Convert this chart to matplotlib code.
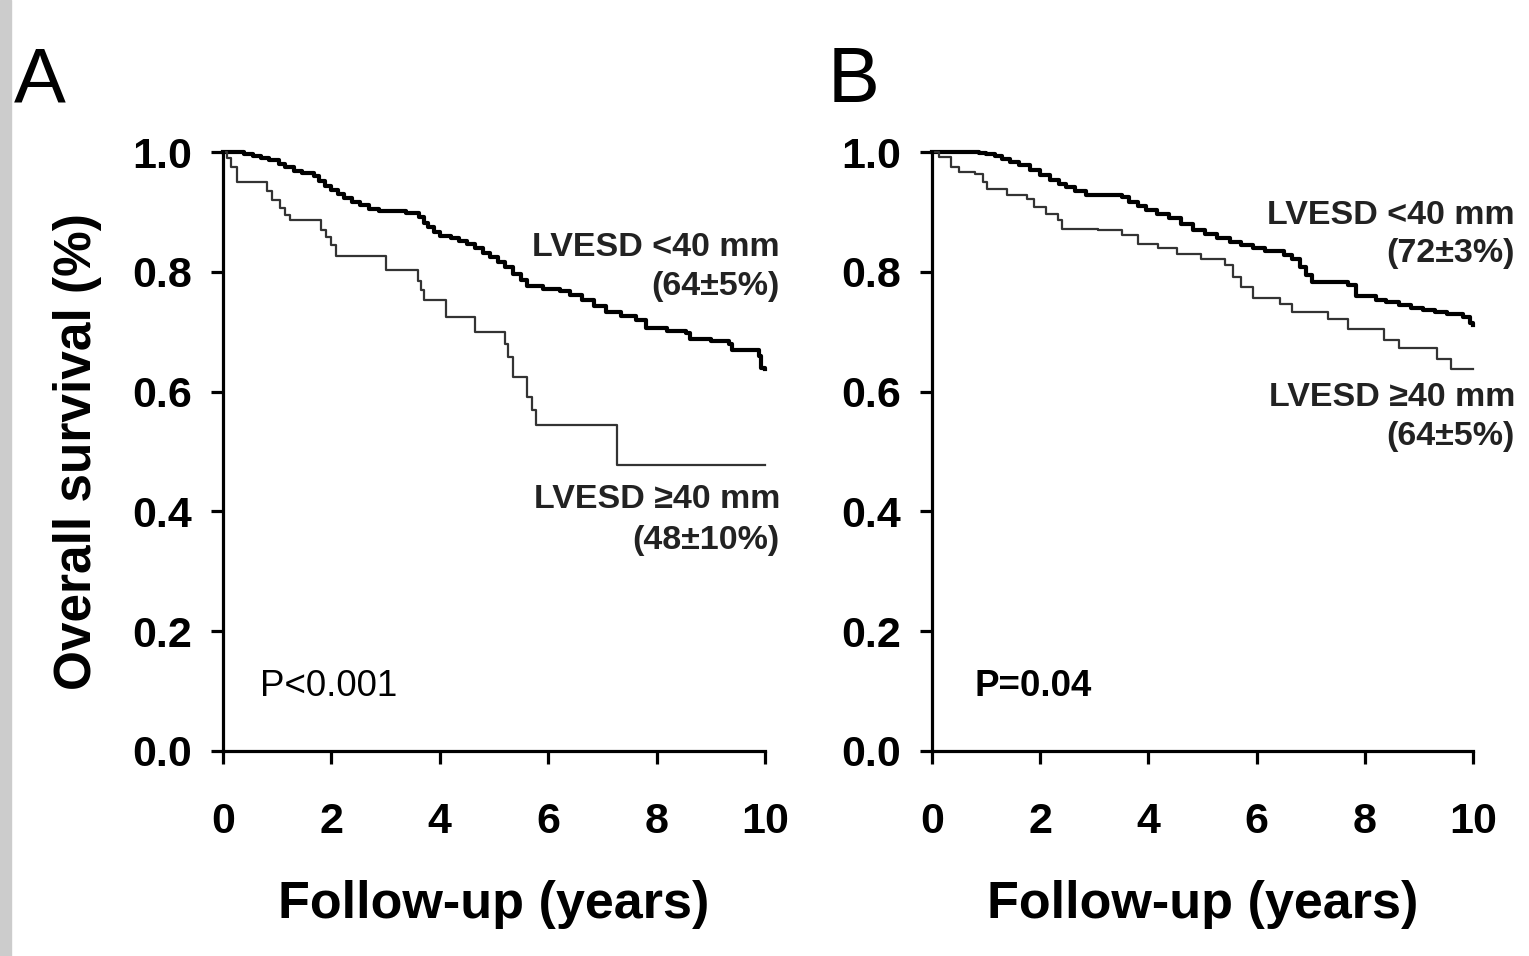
import matplotlib
matplotlib.use("Agg")
import matplotlib.pyplot as plt
from matplotlib.patches import Rectangle

plt.rcParams['font.family'] = ['Liberation Sans', 'DejaVu Sans']

# panel A: LVESD <40 mm (thick) and >=40 mm (thin)
a_small_t = [0, 0.39, 0.55, 0.70, 0.85, 1.03, 1.15, 1.31, 1.45, 1.67, 1.78, 1.88, 2.0, 2.12,
             2.23, 2.38, 2.52, 2.70, 2.87, 3.37, 3.62, 3.70, 3.79, 3.90, 4.01, 4.20, 4.36,
             4.50, 4.65, 4.80, 4.93, 5.08, 5.21, 5.35, 5.50, 5.60, 5.90, 6.21, 6.40, 6.63,
             6.85, 7.06, 7.35, 7.62, 7.80, 8.20, 8.55, 8.62, 9.00, 9.33, 9.40, 9.89, 9.93, 10.0]
a_small_s = [1.0, 0.997, 0.993, 0.99, 0.986, 0.980, 0.975, 0.968, 0.965, 0.960, 0.952, 0.944,
             0.937, 0.930, 0.924, 0.917, 0.911, 0.905, 0.902, 0.898, 0.892, 0.882, 0.874,
             0.867, 0.860, 0.856, 0.851, 0.846, 0.840, 0.832, 0.824, 0.816, 0.808, 0.797,
             0.786, 0.776, 0.772, 0.768, 0.762, 0.753, 0.743, 0.733, 0.727, 0.720, 0.706,
             0.702, 0.697, 0.688, 0.684, 0.680, 0.669, 0.660, 0.640, 0.638]

a_large_t = [0, 0.08, 0.15, 0.25, 0.82, 0.90, 1.06, 1.15, 1.24, 1.81, 1.90, 1.99, 2.09, 3.01,
             3.60, 3.65, 3.70, 4.11, 4.65, 5.21, 5.26, 5.35, 5.60, 5.70, 5.78, 7.27, 10.0]
a_large_s = [1.0, 0.99, 0.975, 0.950, 0.935, 0.920, 0.906, 0.895, 0.886, 0.870, 0.858, 0.845,
             0.826, 0.803, 0.785, 0.770, 0.753, 0.725, 0.700, 0.680, 0.658, 0.625, 0.591,
             0.570, 0.544, 0.477, 0.477]

# panel B
b_small_t = [0, 0.87, 1.0, 1.16, 1.30, 1.45, 1.60, 1.82, 2.0, 2.19, 2.35, 2.48, 2.65, 2.85,
             3.51, 3.65, 3.80, 3.95, 4.15, 4.39, 4.60, 4.83, 5.05, 5.27, 5.50, 5.71, 5.93,
             6.15, 6.51, 6.66, 6.81, 6.92, 7.03, 7.69, 7.84, 8.20, 8.40, 8.64, 8.85, 9.08,
             9.30, 9.52, 9.82, 9.95, 10.0]
b_small_s = [1.0, 0.998, 0.996, 0.993, 0.988, 0.984, 0.978, 0.970, 0.962, 0.953, 0.947, 0.942,
             0.935, 0.928, 0.925, 0.917, 0.910, 0.903, 0.897, 0.889, 0.880, 0.870, 0.863,
             0.856, 0.850, 0.845, 0.840, 0.834, 0.828, 0.822, 0.808, 0.795, 0.783, 0.778,
             0.760, 0.753, 0.749, 0.744, 0.740, 0.736, 0.733, 0.730, 0.724, 0.714, 0.712]

b_large_t = [0, 0.13, 0.35, 0.50, 0.79, 0.94, 1.01, 1.38, 1.75, 1.89, 2.11, 2.33, 2.41, 3.07,
             3.51, 3.80, 4.17, 4.53, 4.97, 5.41, 5.56, 5.71, 5.93, 6.44, 6.66, 7.32, 7.69,
             8.35, 8.64, 9.34, 9.60, 10.0]
b_large_s = [1.0, 0.992, 0.975, 0.967, 0.964, 0.950, 0.939, 0.928, 0.922, 0.908, 0.897, 0.886,
             0.872, 0.870, 0.861, 0.847, 0.839, 0.830, 0.822, 0.811, 0.792, 0.775, 0.756,
             0.747, 0.733, 0.722, 0.705, 0.686, 0.672, 0.655, 0.638, 0.638]

x_ticks = [0, 2, 4, 6, 8, 10]
y_ticks = [0.0, 0.2, 0.4, 0.6, 0.8, 1.0]

W, H = 1529, 956
fig = plt.figure(figsize=(W / 100, H / 100), dpi=100)
fig.patches.append(Rectangle((0, 0), 11 / W, 1, transform=fig.transFigure,
                             color='#cccccc', zorder=0))


def px_axes(x0, x1, ytop, ybot):
    return fig.add_axes([x0 / W, 1 - ybot / H, (x1 - x0) / W, (ybot - ytop) / H])


def style(ax):
    ax.set_xlim(0, 10)
    ax.set_ylim(0, 1)
    ax.spines['top'].set_visible(False)
    ax.spines['right'].set_visible(False)
    for s in ['left', 'bottom']:
        ax.spines[s].set_linewidth(2.3)
    ax.set_xticks(x_ticks)
    ax.set_yticks(y_ticks)
    ax.set_yticklabels([f"{v:.1f}" for v in y_ticks])
    ax.tick_params(direction='out', length=9, width=2.3, labelsize=31)
    ax.tick_params(axis='y', pad=13)
    ax.tick_params(axis='x', pad=28)
    for lab in ax.get_xticklabels() + ax.get_yticklabels():
        lab.set_fontweight('bold')
    ax.set_xlabel("Follow-up (years)", fontsize=37.5, fontweight='bold', labelpad=27)
    for sp in ax.spines.values():
        sp.set_clip_on(False)


axA = px_axes(223, 765, 152, 751)
axB = px_axes(932, 1473, 152, 751)

axA.step(a_small_t, a_small_s, where='post', color='black', lw=3.0, clip_on=False)
axA.step(a_large_t, a_large_s, where='post', color='#333333', lw=1.6, clip_on=False)
axB.step(b_small_t, b_small_s, where='post', color='black', lw=3.0, clip_on=False)
axB.step(b_large_t, b_large_s, where='post', color='#333333', lw=1.6, clip_on=False)

style(axA)
style(axB)
axA.set_ylabel("Overall survival (%)", fontsize=37, fontweight='bold', labelpad=22)

tk = dict(fontsize=24.5, fontweight='bold', ha='right', va='center', color='#222222')
fig.text(780 / W, 1 - 247 / H, "LVESD <40 mm", **tk)
fig.text(780 / W, 1 - 287 / H, "(64±5%)", **tk)
fig.text(780 / W, 1 - 500 / H, "LVESD ≥40 mm", **tk)
fig.text(780 / W, 1 - 540 / H, "(48±10%)", **tk)
fig.text(1515 / W, 1 - 215 / H, "LVESD <40 mm", **tk)
fig.text(1515 / W, 1 - 253 / H, "(72±3%)", **tk)
fig.text(1515 / W, 1 - 397 / H, "LVESD ≥40 mm", **tk)
fig.text(1515 / W, 1 - 437 / H, "(64±5%)", **tk)

fig.text(260 / W, 1 - 687 / H, "P<0.001", fontsize=26.5, ha='left', va='center')
fig.text(975 / W, 1 - 687 / H, "P=0.04", fontsize=26.5, fontweight='bold', ha='left', va='center')

fig.text(14 / W, 1 - 82 / H, "A", fontsize=56, ha='left', va='center')
fig.text(828 / W, 1 - 82 / H, "B", fontsize=56, ha='left', va='center')

fig.savefig("out.png", dpi=100)
